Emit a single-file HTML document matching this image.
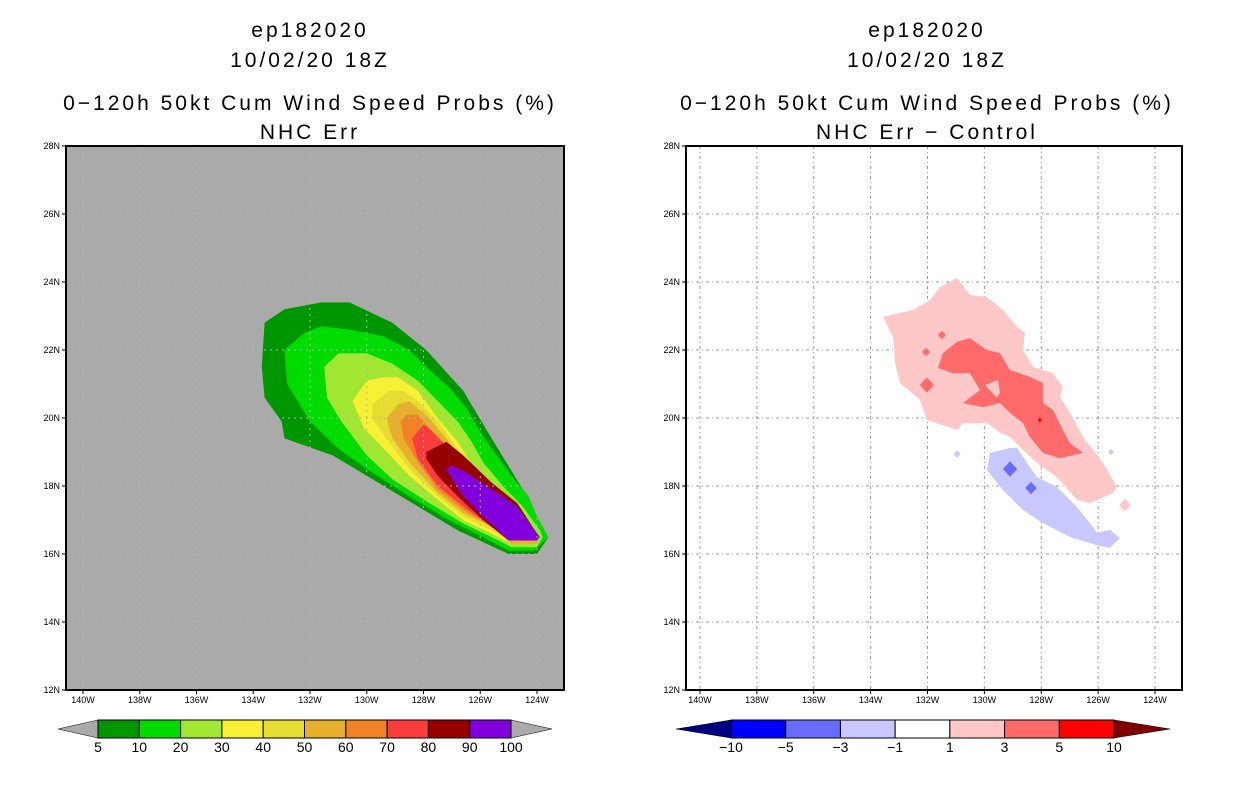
<!DOCTYPE html>
<html><head><meta charset="utf-8"><style>
html,body{margin:0;padding:0;background:#fff;width:1236px;height:800px;overflow:hidden}
svg{display:block}
text{font-family:"Liberation Sans",sans-serif;fill:#000}
.t{font-size:21px;text-anchor:middle;letter-spacing:3px}
.tk{font-size:9px}
.cb{font-size:14px;text-anchor:middle}
</style></head><body>
<svg id="chart" width="1236" height="800" viewBox="0 0 1236 800">
<g>
<text class="t" x="310" y="37">ep182020</text>
<text class="t" x="310" y="67">10/02/20 18Z</text>
<text class="t" x="310" y="110">0−120h 50kt Cum Wind Speed Probs (%)</text>
<text class="t" x="310" y="139">NHC Err</text>
</g>
<g>
<text class="t" x="927" y="37">ep182020</text>
<text class="t" x="927" y="67">10/02/20 18Z</text>
<text class="t" x="927" y="110">0−120h 50kt Cum Wind Speed Probs (%)</text>
<text class="t" x="927" y="139">NHC Err − Control</text>
</g>
<g id="left"></g>
<g id="right"></g>
<g id="lcb"></g>
<g id="rcb"></g>
</svg>
<script>
// ---- data ----
const latTicks=[12,14,16,18,20,22,24,26,28];
const lonTicks=[140,138,136,134,132,130,128,126,124];
const leftLevels=["5","10","20","30","40","50","60","70","80","90","100"];
const leftColors=["#009600","#00dc00","#a0e632","#f8f032","#e6dc32","#e6af2d","#f08228","#fa3c3c","#960000","#8200dc"];
const rightLevels=["−10","−5","−3","−1","1","3","5","10"];
const rightColors=["#0000ff","#6a6aff","#c8c8ff","#ffffff","#ffc8c8","#ff6a6a","#ff0000"];
// contour polygons [lonW, latN]
const p5=[[133.6,22.8],[132.9,23.2],[131.6,23.4],[130.6,23.4],[129.1,22.8],[127.9,22.0],[126.6,20.8],[125.6,19.4],[124.5,17.9],[124.1,17.1],[123.6,16.5],[124.0,16.0],[125.0,16.0],[126.8,16.7],[128.6,17.6],[131.2,18.9],[132.9,19.4],[133.0,19.9],[133.6,20.6],[133.7,21.5]];
const p10=[[132.9,22.0],[132.2,22.5],[131.6,22.7],[130.6,22.6],[129.4,22.4],[128.5,22.0],[127.9,21.5],[127.1,20.9],[126.5,20.3],[126.0,19.6],[125.6,19.1],[124.9,18.3],[124.3,17.7],[124.0,17.1],[123.6,16.5],[124.1,16.1],[125.0,16.1],[125.9,16.5],[127.1,17.0],[128.5,17.7],[130.0,18.5],[131.0,19.1],[132.0,19.9],[132.8,21.0]];
const p20=[[131.5,21.5],[131.0,21.9],[130.0,21.9],[129.1,21.6],[128.2,21.1],[127.5,20.5],[126.8,19.9],[126.3,19.3],[125.9,18.7],[125.2,18.0],[124.5,17.4],[123.9,16.7],[123.8,16.5],[124.0,16.2],[124.9,16.2],[125.6,16.5],[126.6,16.9],[127.8,17.5],[129.1,18.2],[130.0,18.9],[130.9,19.9],[131.4,20.6]];
const p30=[[130.5,20.5],[130.0,21.1],[129.4,21.2],[128.9,21.2],[128.2,20.8],[127.5,20.0],[126.8,19.3],[126.2,18.5],[125.4,17.7],[124.7,17.1],[124.0,16.5],[124.0,16.3],[124.9,16.3],[125.6,16.6],[126.6,17.0],[127.5,17.6],[128.5,18.3],[129.4,19.1],[130.1,19.7]];
const p40=[[129.8,20.4],[129.2,20.8],[128.7,20.8],[128.2,20.5],[127.5,19.9],[126.8,19.1],[126.1,18.2],[125.2,17.4],[124.0,16.5],[124.0,16.3],[124.9,16.3],[125.6,16.7],[126.6,17.1],[127.5,17.7],[128.5,18.5],[129.3,19.4],[129.8,20.0]];
const p50=[[129.3,20.0],[128.9,20.4],[128.5,20.5],[127.8,20.0],[127.1,19.3],[126.3,18.4],[125.4,17.5],[124.0,16.5],[124.0,16.3],[124.9,16.3],[125.6,16.8],[126.6,17.2],[127.5,17.8],[128.4,18.6],[129.1,19.4]];
const p60=[[128.8,19.9],[128.6,20.1],[128.2,20.1],[127.8,19.7],[127.1,19.1],[126.3,18.3],[125.4,17.4],[124.0,16.5],[124.0,16.4],[124.9,16.4],[125.6,16.8],[126.6,17.3],[127.5,17.9],[128.2,18.7],[128.7,19.4]];
const p70=[[128.4,19.4],[128.0,19.8],[127.8,19.7],[127.1,19.1],[126.3,18.3],[125.4,17.5],[124.0,16.5],[124.0,16.4],[124.9,16.4],[125.6,16.8],[126.6,17.4],[127.5,18.0],[128.2,18.8]];
const p80=[[127.9,19.0],[127.2,19.3],[126.6,18.9],[125.6,18.1],[124.7,17.5],[124.0,16.6],[124.0,16.4],[125.0,16.4],[125.9,17.0],[126.8,17.7],[127.5,18.3],[127.9,18.8]];
const p90=[[127.2,18.5],[127.0,18.6],[126.5,18.4],[125.6,17.9],[124.7,17.4],[123.9,16.5],[124.0,16.4],[125.0,16.4],[125.9,17.1],[126.6,17.7]];
const leftPolys=[p5,p10,p20,p30,p40,p50,p60,p70,p80,p90];
const dPink=[[133.57,22.97],[132.51,23.18],[131.91,23.47],[131.56,23.85],[130.96,24.12],[130.51,23.62],[129.91,23.56],[129.35,23.18],[128.85,22.68],[128.57,22.50],[128.64,22.00],[128.29,21.50],[127.59,21.32],[127.24,20.91],[127.34,20.62],[126.99,20.15],[126.53,19.44],[125.83,18.68],[125.34,17.97],[125.48,17.79],[126.29,17.50],[126.74,17.59],[127.45,18.26],[128.15,18.68],[128.64,19.06],[129.10,19.44],[129.44,19.56],[129.91,19.85],[130.75,19.85],[130.96,19.65],[132.02,19.94],[132.26,20.53],[132.97,21.03],[133.14,21.62],[133.21,22.38]];
const dRed=[[131.63,21.47],[131.46,21.91],[130.96,22.24],[130.51,22.35],[129.91,22.00],[129.45,21.91],[129.10,21.41],[128.40,21.21],[127.94,21.03],[127.94,20.44],[127.59,20.24],[127.24,19.65],[126.99,19.26],[126.53,18.97],[127.34,18.82],[127.94,18.97],[128.40,19.44],[128.64,19.85],[129.10,20.15],[129.45,20.44],[130.05,20.32],[130.75,20.44],[130.15,20.82],[130.51,21.32],[131.10,21.32]];
const dHole=[[129.98,20.97],[129.52,21.12],[129.45,20.74],[129.56,20.59]];
const dBlue=[[129.91,18.47],[129.80,18.97],[129.10,19.12],[128.85,19.12],[128.50,18.68],[128.15,18.26],[127.45,17.97],[126.74,17.38],[126.29,16.91],[126.04,16.62],[125.58,16.71],[125.23,16.47],[125.58,16.18],[126.04,16.26],[126.99,16.50],[127.94,16.91],[128.64,17.29],[129.35,17.88]];
// small diamond features: lon, lat, level-index, radius(deg)
const spotLon=[132.05,131.49,132.02,128.05,125.06,129.1,128.36,130.96,125.55];
const spotLat=[21.94,22.44,20.97,19.94,17.44,18.5,17.94,18.94,19.0];
const spotLvl=[5,5,5,6,4,1,1,2,2];
const spotR=[0.14,0.14,0.25,0.08,0.2,0.25,0.2,0.12,0.1];

const NS="http://www.w3.org/2000/svg";
function mk(parent,tag,attrs){const e=document.createElementNS(NS,tag);for(const k in attrs)e.setAttribute(k,attrs[k]);parent.appendChild(e);return e;}

function drawMap(g,x0,x1,y0,y1,xL140,xL124,bg,gridCol,dash){
  const sx=lon=>xL140+(140-lon)*(xL124-xL140)/16;
  const sy=lat=>y1-(lat-12)*(y1-y0)/16;
  const bgR=mk(g,'rect',{x:x0,y:y0,width:x1-x0,height:y1-y0,fill:bg});
  
  
  return {sx,sy,finish:()=>{
    const gg=mk(g,'g',{});
    
    
    lonTicks.forEach(l=>mk(gg,'line',{x1:sx(l),x2:sx(l),y1:y0,y2:y1,stroke:gridCol,'stroke-width':1,'stroke-dasharray':dash}));
    latTicks.forEach(l=>mk(gg,'line',{x1:x0,x2:x1,y1:sy(l),y2:sy(l),stroke:gridCol,'stroke-width':1,'stroke-dasharray':dash}));
    const fr=mk(g,'rect',{x:x0,y:y0,width:x1-x0,height:y1-y0,fill:'none',stroke:'#000','stroke-width':2});
    
    
    const ax=mk(g,'g',{});
    
    
    latTicks.forEach(l=>{const y=sy(l);mk(ax,'line',{x1:x0-4,x2:x0,y1:y,y2:y,stroke:'#000'});
      const t=mk(ax,'text',{x:x0-6,y:y+3,'text-anchor':'end',class:'tk'});t.textContent=l+'N';});
    lonTicks.forEach(l=>{const x=sx(l);mk(ax,'line',{x1:x,x2:x,y1:y1,y2:y1+4,stroke:'#000'});
      const t=mk(ax,'text',{x:x,y:y1+13,'text-anchor':'middle',class:'tk'});t.textContent=l+'W';});
  }};
}
function poly(g,m,pts,fill,name){
  const p=mk(g,'polygon',{points:pts.map(q=>m.sx(q[0]).toFixed(1)+','+m.sy(q[1]).toFixed(1)).join(' '),fill:fill});
  
  
}
// left
const L=document.getElementById('left');
const ml=drawMap(L,66,564,146,690,83,537,'#aaaaaa','#b4b4b4','2,4');
leftPolys.forEach((pp,i)=>poly(L,ml,pp,leftColors[i],'contour-'+leftLevels[i]));
ml.finish();
// right
const R=document.getElementById('right');
const mr=drawMap(R,686,1182,146,690,700,1155,'#ffffff','#9a9a9a','3,3,1,3');
mr.finish();
poly(R,mr,dPink,rightColors[4],'diff-1-3');
poly(R,mr,dRed,rightColors[5],'diff-3-5');
poly(R,mr,dHole,rightColors[4],'diff-1-3-hole');
poly(R,mr,dBlue,rightColors[2],'diff-minus3-minus1');
spotLon.forEach((lo,i)=>{const r=spotR[i];
  poly(R,mr,[[lo+r,spotLat[i]],[lo,spotLat[i]+r*0.9],[lo-r,spotLat[i]],[lo,spotLat[i]-r*0.9]],rightColors[spotLvl[i]],'diff-spot');});
const rf=mk(R,'rect',{x:686,y:146,width:496,height:544,fill:'none',stroke:'#000','stroke-width':2});



function colorbar(g,xs,xe,y,h,tipL,tipR,colors,labels,lc,rc){
  const w=(xe-xs)/colors.length;
  const a=mk(g,'polygon',{points:`${tipL},${y+h/2} ${xs},${y} ${xs},${y+h}`,fill:lc,stroke:'#000','stroke-width':0.5});
  
  
  const b=mk(g,'polygon',{points:`${tipR},${y+h/2} ${xe},${y} ${xe},${y+h}`,fill:rc,stroke:'#000','stroke-width':0.5});
  
  
  colors.forEach((c,i)=>{const r=mk(g,'rect',{x:xs+i*w,y:y,width:w,height:h,fill:c,stroke:'#000','stroke-width':1});
    
    });
  labels.forEach((s,i)=>{const t=mk(g,'text',{x:xs+i*w,y:y+h+14,class:'cb'});t.textContent=s;
    
    });
}
colorbar(document.getElementById('lcb'),98,511,720,18,58,552,leftColors,leftLevels,'#aaaaaa','#aaaaaa');
colorbar(document.getElementById('rcb'),731,1114,720,18,676,1170,rightColors,rightLevels,'#000080','#800000');
</script>
</body></html>
